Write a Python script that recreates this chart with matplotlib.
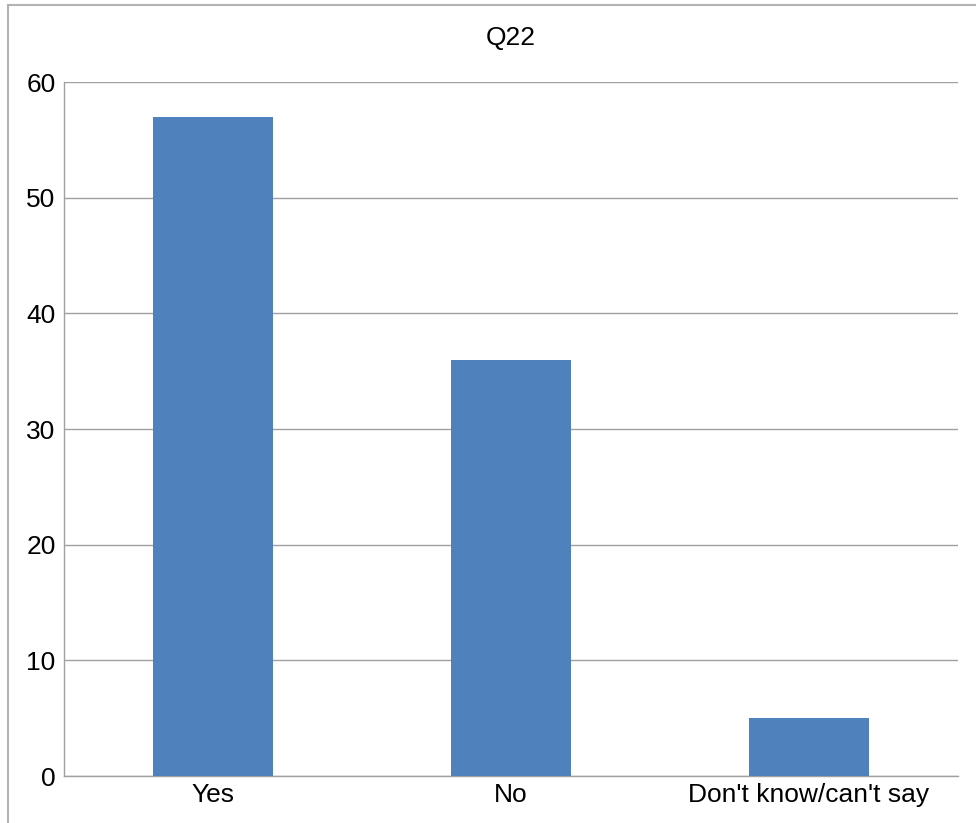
import matplotlib
matplotlib.use('Agg')
import matplotlib.pyplot as plt
from matplotlib.lines import Line2D

plt.rcParams['font.family'] = ['Liberation Sans', 'DejaVu Sans']

# data
categories = ['Yes', 'No', "Don't know/can't say"]
counts = [57, 36, 5]
yticks = [0, 10, 20, 30, 40, 50, 60]

fig = plt.figure(figsize=(9.76, 8.23), dpi=100)
ax = fig.add_axes([64/976, 1 - 776/823, (958 - 64)/976, (776 - 82)/823])

ax.bar(categories, counts, width=0.4, color='#4f81bd', zorder=3)

ax.set_ylim(0, 60)
ax.set_xlim(-0.5, 2.5)
ax.set_yticks(yticks)
ax.yaxis.grid(True, color='#a0a0a0', linewidth=1)
ax.set_axisbelow(True)
ax.tick_params(axis='both', length=0, labelsize=19)
ax.tick_params(axis='y', pad=6)
ax.tick_params(axis='x', pad=5)

for side in ['top', 'right']:
    ax.spines[side].set_visible(False)
for side in ['left', 'bottom']:
    ax.spines[side].set_color('#a0a0a0')
    ax.spines[side].set_linewidth(1)

fig.text(511/976, 1 - 38/823, 'Q22', ha='center', va='center', fontsize=19)

# outer chart frame (cropped on the right and bottom)
fig.add_artist(Line2D([8/976, 8/976], [0, 1 - 5/823], color='#b3b3b3', linewidth=1.5))
fig.add_artist(Line2D([8/976, 1], [1 - 5/823, 1 - 5/823], color='#b3b3b3', linewidth=1.5))

fig.savefig('out.png', dpi=100)
